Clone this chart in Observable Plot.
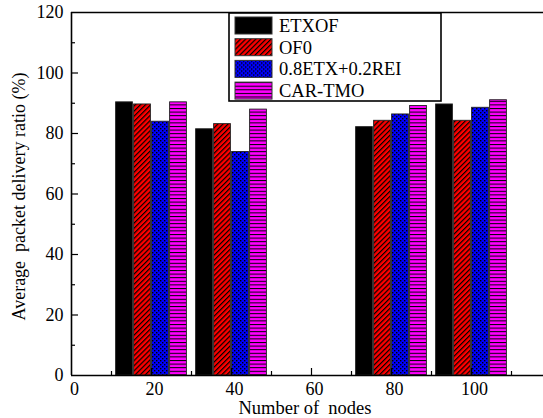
<!DOCTYPE html>
<html>
<head>
<meta charset="utf-8">
<script src="https://cdn.jsdelivr.net/npm/d3@7"></script>
<script src="https://cdn.jsdelivr.net/npm/@observablehq/plot@0.6"></script>
<style>
  html, body { margin: 0; padding: 0; background: #fff; }
  #chart { width: 543px; height: 418px; position: relative; font-family: 'Liberation Serif'; }
</style>
</head>
<body>
<div id="chart"></div>
<script>
// Average packet delivery ratio per routing objective function
const nodes = [20, 40, 80, 100];
const series = ["ETXOF", "OF0", "0.8ETX+0.2REI", "CAR-TMO"];
const etxof = [90.3, 81.4, 82.1, 89.6];
const of0 = [89.6, 83.1, 84.2, 84.2];
const etxRei = [83.9, 73.9, 86.3, 88.5];
const carTmo = [90.3, 87.9, 89.1, 91.0];
const yMajor = [0, 20, 40, 60, 80, 100, 120];
const yMinor = [10, 30, 50, 70, 90, 110];
const xMajor = [0, 20, 40, 60, 80, 100];
const xMinor = [10, 30, 50, 70, 90, 110];
const fills = ["#000", "url(#hatchRed)", "url(#dotBlue)", "url(#lineMagenta)"];

const valuesBySeries = [etxof, of0, etxRei, carTmo];
const groupWidth = 18;               // x units covered by one group of bars
const barWidth = groupWidth / series.length;
const rows = [];
nodes.forEach((n, i) => {
  series.forEach((s, k) => {
    const x1 = n - groupWidth / 2 + k * barWidth;
    rows.push({nodes: n, series: s, value: valuesBySeries[k][i], x1, x2: x1 + barWidth});
  });
});

const W = 543, H = 418;
const mL = 71, mR = 0, mT = 12, mB = 43;
const plotW = W - mL - mR, plotH = H - mT - mB;
const font = "Liberation Serif";

const chart = Plot.plot({
  width: W, height: H,
  marginLeft: mL, marginRight: mR, marginTop: mT, marginBottom: mB,
  style: "font-family: 'Liberation Serif'; font-size: 18px; color: #000; background: #fff;",
  x: {domain: [0, 118]},
  y: {domain: [0, 120]},
  color: {type: "ordinal", domain: series, range: fills},
  marks: [
    Plot.rectY(rows, {
      x1: "x1", x2: "x2", y: "value", fill: "series",
      stroke: "#222", strokeWidth: 0.9, insetLeft: 0.6, insetRight: 0.6
    }),
    // frame lines
    Plot.ruleX([0], {stroke: "#000", strokeWidth: 1.6}),
    Plot.ruleY([0], {stroke: "#000", strokeWidth: 1.6}),
    Plot.ruleY([120], {stroke: "#000", strokeWidth: 1.6}),
    // inward ticks
    Plot.ruleY(yMajor.slice(1, -1), {stroke: "#000", strokeWidth: 1.2, insetRight: plotW - 7}),
    Plot.ruleY(yMinor, {stroke: "#000", strokeWidth: 1.2, insetRight: plotW - 4}),
    Plot.ruleX(xMajor.slice(1), {stroke: "#000", strokeWidth: 1.2, insetTop: plotH - 7}),
    Plot.ruleX(xMinor, {stroke: "#000", strokeWidth: 1.2, insetTop: plotH - 4}),
    Plot.axisY({ticks: yMajor, tickSize: 0, tickPadding: 8, label: null, fontSize: 18, fontFamily: font}),
    Plot.axisX({ticks: xMajor, tickSize: 0, tickPadding: 7, dx: 3, label: null, fontSize: 18, fontFamily: font})
  ]
});

const svg = d3.select(chart);
svg.attr("font-family", font);

// fill patterns for the hatched bars
const defs = svg.insert("defs", ":first-child");
const red = defs.append("pattern").attr("id", "hatchRed")
  .attr("patternUnits", "userSpaceOnUse").attr("width", 3.6).attr("height", 3.6)
  .attr("patternTransform", "rotate(-45)");
red.append("rect").attr("width", 3.6).attr("height", 3.6).attr("fill", "#ff0000");
red.append("rect").attr("width", 3.6).attr("height", 1.2).attr("fill", "#000");

const blue = defs.append("pattern").attr("id", "dotBlue")
  .attr("patternUnits", "userSpaceOnUse").attr("width", 4).attr("height", 4);
blue.append("rect").attr("width", 4).attr("height", 4).attr("fill", "#0000ff");
blue.append("rect").attr("x", 0).attr("y", 0).attr("width", 1.4).attr("height", 1.4).attr("fill", "#000");
blue.append("rect").attr("x", 2).attr("y", 2).attr("width", 1.4).attr("height", 1.4).attr("fill", "#000");

const mag = defs.append("pattern").attr("id", "lineMagenta")
  .attr("patternUnits", "userSpaceOnUse").attr("width", 4).attr("height", 3.6);
mag.append("rect").attr("width", 4).attr("height", 3.6).attr("fill", "#ff00ff");
mag.append("rect").attr("width", 4).attr("height", 1).attr("fill", "#000");

// axis titles
svg.append("text")
  .attr("transform", `translate(25,${mT + plotH / 2 + 3}) rotate(-90)`)
  .attr("text-anchor", "middle").attr("font-size", 18)
  .text("Average  packet delivery ratio (%)");
svg.append("text")
  .attr("x", 305).attr("y", 414)
  .attr("text-anchor", "middle").attr("font-size", 18.5)
  .text("Number of  nodes");

// legend box
const lg = svg.append("g").attr("transform", "translate(229,13)");
lg.append("rect").attr("width", 212).attr("height", 88)
  .attr("fill", "#fff").attr("stroke", "#000").attr("stroke-width", 1.6);
series.forEach((s, k) => {
  const row = lg.append("g").attr("transform", `translate(6,${4 + k * 21.7})`);
  row.append("rect").attr("width", 37).attr("height", 17)
    .attr("fill", fills[k]).attr("stroke", "#333").attr("stroke-width", 1);
  row.append("text").attr("x", 44).attr("y", 15).attr("text-anchor", "start")
    .attr("font-size", 18.5).text(s);
});

// every label in Times-like serif, black
svg.selectAll("text")
  .attr("fill", "#000")
  .attr("font-family", font)
  .style("font-family", "'Liberation Serif'")
  .style("white-space", "pre");

document.getElementById("chart").appendChild(chart);
</script>
</body>
</html>
